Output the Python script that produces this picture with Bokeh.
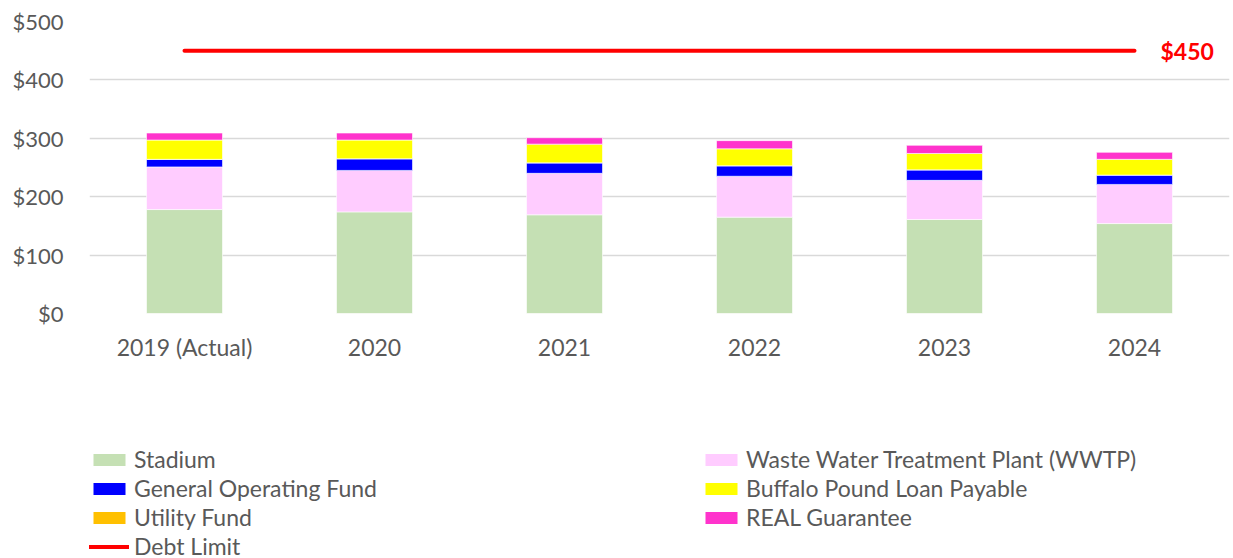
from bokeh.plotting import figure
from bokeh.layouts import column
from bokeh.models import (Range1d, FactorRange, NumeralTickFormatter, SingleIntervalTicker,
                          Legend, LegendItem, ColumnDataSource)
from bokeh.core.properties import value
from bokeh.embed import file_html
from bokeh.resources import INLINE

years = ["2019 (Actual)", "2020", "2021", "2022", "2023", "2024"]
stadium = [178, 174, 169, 165, 161, 154]
wwtp = [73, 71, 71, 70, 67, 67]
general_operating = [13, 20, 18, 18, 18, 16]
utility_fund = [0, 0, 0, 0, 0, 0]
buffalo_pound = [33, 32, 32, 29, 28, 27]
real_guarantee = [12, 12, 11, 14, 14, 12]
debt_limit = 450
debt_label = "$450"

series = ["Stadium", "Waste Water Treatment Plant (WWTP)", "General Operating Fund",
          "Utility Fund", "Buffalo Pound Loan Payable", "REAL Guarantee"]
colors = ["#C5E0B4", "#FFCCFF", "#0000FF", "#FFC000", "#FFFF00", "#FF33CC"]
keys = ["s0", "s1", "s2", "s3", "s4", "s5"]

src = ColumnDataSource(dict(years=years, s0=stadium, s1=wwtp, s2=general_operating,
                            s3=utility_fund, s4=buffalo_pound, s5=real_guarantee))

FONT = "Lato"
GRAY = "#595959"
W = 1231

# ---------------- main chart ----------------
p = figure(x_range=FactorRange(*years), y_range=Range1d(0, 500),
           width=W, height=374, output_backend="svg", toolbar_location=None,
           min_border_left=89, min_border_right=2, min_border_top=21, min_border_bottom=61)
p.outline_line_color = None

rs = p.vbar_stack(keys, x="years", width=0.4, color=colors, line_color="white",
                  line_width=0.6, source=src)

p.line(x=[years[0], years[-1]], y=[debt_limit, debt_limit], line_color="#FF0000",
       line_width=4, line_cap="round")
p.text(x=[years[-1]], y=[debt_limit], text=[debt_label], x_offset=26,
       text_color="#FF0000", text_font=value(FONT), text_font_style="bold",
       text_font_size="23px", text_baseline="middle", text_align="left")

p.yaxis.ticker = SingleIntervalTicker(interval=100)
p.yaxis.formatter = NumeralTickFormatter(format="$0")
for ax in (p.xaxis[0], p.yaxis[0]):
    ax.axis_line_color = None
    ax.major_tick_line_color = None
    ax.minor_tick_line_color = None
    ax.major_tick_out = 0
    ax.major_tick_in = 0
    ax.minor_tick_out = 0
    ax.major_label_text_font = FONT
    ax.major_label_text_color = GRAY
p.yaxis.major_label_text_font_size = "22px"
p.xaxis.major_label_text_font_size = "23px"
p.yaxis.major_label_standoff = 26
p.xaxis.major_label_standoff = 19

p.xgrid.grid_line_color = None
p.ygrid.grid_line_color = "#D9D9D9"
p.ygrid.grid_line_width = 1.5

# ---------------- legend panel ----------------
q = figure(x_range=FactorRange(*years), y_range=Range1d(0, 500),
           width=W, height=182, output_backend="svg", toolbar_location=None,
           min_border_left=0, min_border_right=0, min_border_top=0, min_border_bottom=0,
           x_axis_type=None, y_axis_type=None)
q.outline_line_color = None
q.grid.visible = False
qrs = q.vbar_stack(keys, x="years", width=0.4, color=colors, line_color=None,
                   source=src, visible=False)
qline = q.line(x=[years[0], years[-1]], y=[debt_limit, debt_limit], line_color="#FF0000",
               line_width=4, line_cap="round", visible=False)

items = [
    LegendItem(label=series[0], renderers=[qrs[0]]),
    LegendItem(label=series[1], renderers=[qrs[1]]),
    LegendItem(label=series[2], renderers=[qrs[2]]),
    LegendItem(label=series[4], renderers=[qrs[4]]),
    LegendItem(label=series[3], renderers=[qrs[3]]),
    LegendItem(label=series[5], renderers=[qrs[5]]),
    LegendItem(label="Debt Limit", renderers=[qline]),
]
legend = Legend(items=items, orientation="horizontal", ncols=2,
                location=(0, -4), padding=0, margin=0, spacing=1,
                glyph_width=40, glyph_height=15, label_standoff=5,
                label_width=566, label_height=28,
                label_text_font=FONT, label_text_font_size="23px",
                label_text_color=GRAY, border_line_color=None,
                background_fill_alpha=0, inactive_fill_alpha=0)
q.add_layout(legend, "center")

layout = column(p, q, spacing=0)
open("out.html", "w").write(file_html(layout, INLINE))
